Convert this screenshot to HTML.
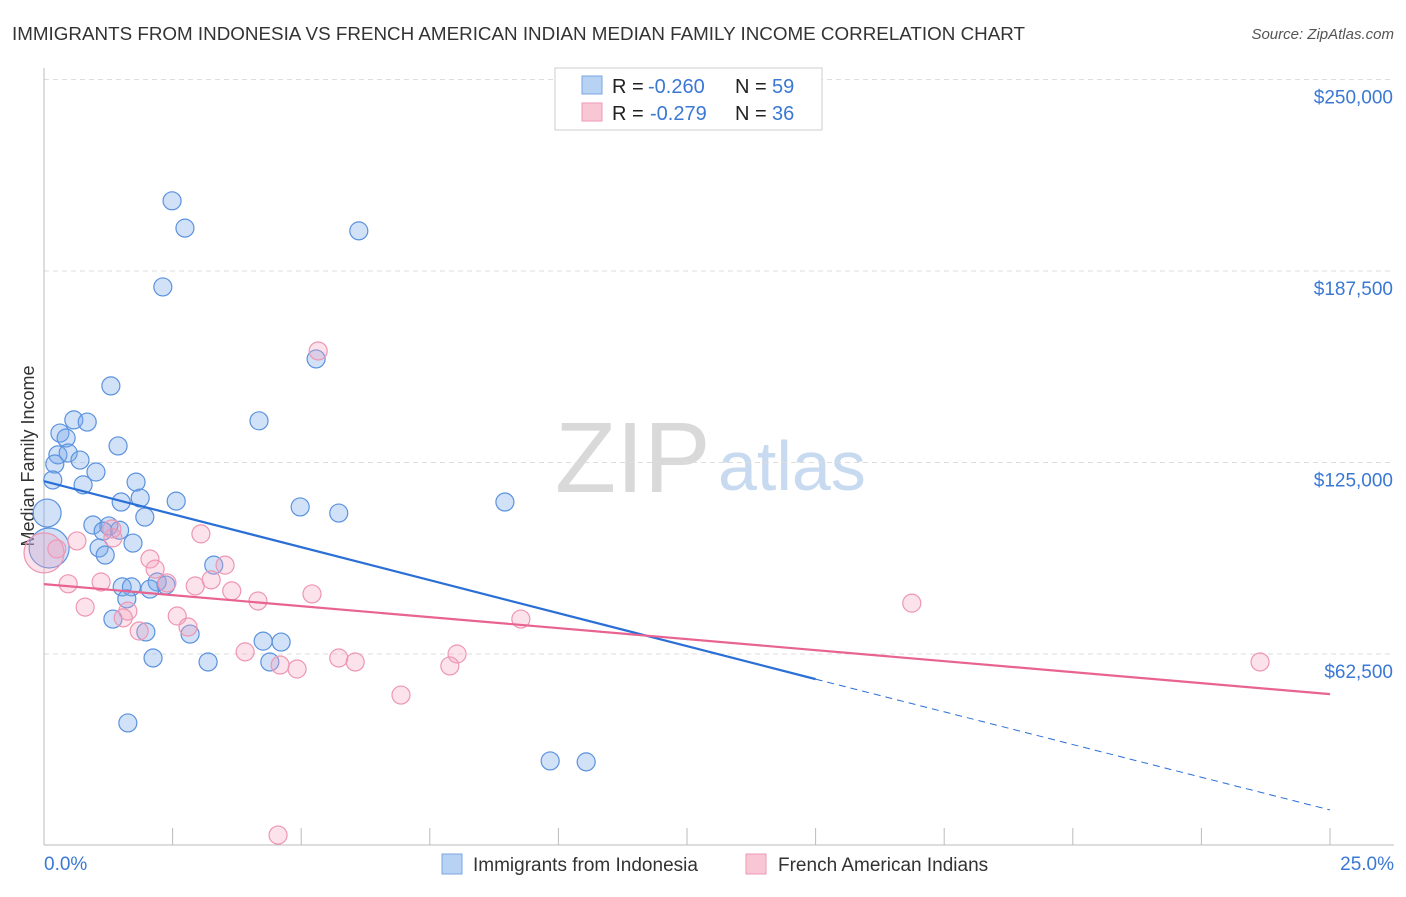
<!DOCTYPE html>
<html><head><meta charset="utf-8"><style>
body{margin:0;background:#fff;font-family:"Liberation Sans",sans-serif;}
svg text{font-family:"Liberation Sans",sans-serif;}
</style></head><body>
<svg id="chart" width="1406" height="892" xmlns="http://www.w3.org/2000/svg">
<text x="12" y="40" font-size="18" fill="#333" textLength="1013" lengthAdjust="spacingAndGlyphs">IMMIGRANTS FROM INDONESIA VS FRENCH AMERICAN INDIAN MEDIAN FAMILY INCOME CORRELATION CHART</text>
<text x="1394" y="39" font-size="15" fill="#555" text-anchor="end" font-style="italic">Source: ZipAtlas.com</text>
<text x="0" y="0" font-size="18" fill="#333" text-anchor="middle" transform="translate(34,456) rotate(-90)">Median Family Income</text>
<text x="555" y="492" font-size="100" fill="#d9d9d9" font-family="Liberation Serif">ZIP</text>
<text x="718" y="490" font-size="70" fill="#c8daf0">atlas</text>
<g id="grid"></g><g id="axes"></g><g id="pts"></g><g id="trend"></g>
<g>
<rect x="555" y="68" width="267" height="62" fill="#fff" stroke="#ccc"/>
<rect x="582" y="76" width="20" height="18" fill="#b8d2f4" stroke="#7aa6e0"/>
<text x="612" y="93" font-size="20" fill="#222">R =</text>
<text x="648" y="93" font-size="20" fill="#3a78d4">-0.260</text>
<text x="735" y="93" font-size="20" fill="#222">N =</text>
<text x="772" y="93" font-size="20" fill="#3a78d4">59</text>
<rect x="582" y="103" width="20" height="18" fill="#f9c6d6" stroke="#ee9ab4"/>
<text x="612" y="120" font-size="20" fill="#222">R =</text>
<text x="650" y="120" font-size="20" fill="#3a78d4">-0.279</text>
<text x="735" y="120" font-size="20" fill="#222">N =</text>
<text x="772" y="120" font-size="20" fill="#3a78d4">36</text>
</g>
<g>
<rect x="442" y="854" width="20" height="20" fill="#b8d2f4" stroke="#7aa6e0"/>
<text x="473" y="871" font-size="19" fill="#333">Immigrants from Indonesia</text>
<rect x="746" y="854" width="20" height="20" fill="#f9c6d6" stroke="#ee9ab4"/>
<text x="778" y="871" font-size="19" fill="#333">French American Indians</text>
</g>
</svg>
<script>
const yTicks=[62500,125000,187500,250000];
const yTickLabels=["$62,500","$125,000","$187,500","$250,000"];
const xTickLabels=["0.0%","25.0%"];
const blueX=[2.49,2.74,6.12,2.31,5.29,1.30,4.18,0.58,0.84,0.31,0.43,1.44,0.27,0.47,0.21,0.70,1.01,0.17,0.76,1.79,1.87,1.50,2.57,4.98,5.73,8.96,0.06,1.96,0.10,0.95,1.26,1.15,1.47,1.73,1.07,1.19,3.30,2.20,2.37,1.52,2.06,1.70,1.61,1.34,1.98,2.84,4.26,4.61,2.12,3.19,4.39,1.63,9.84,10.54];
const blueY=[210.4,201.5,200.6,182.3,158.8,150.0,138.6,138.9,138.2,134.6,133.0,130.4,127.5,128.1,124.5,125.8,121.9,119.3,117.7,118.6,113.4,112.1,112.4,110.5,108.5,112.1,108.5,107.2,97.1,104.6,104.3,102.6,102.9,98.7,97.1,94.8,91.5,86.0,85.0,84.4,83.7,84.4,80.5,73.9,69.7,69.0,66.7,66.4,61.2,59.9,59.9,40.0,27.6,27.3];
const blueR=[9,9,9,9,9,9,9,9,9,9,9,9,9,9,9,9,9,9,9,9,9,9,9,9,9,9,14,9,20,9,9,9,9,9,9,9,9,9,9,9,9,9,9,9,9,9,9,9,9,9,9,9,9,9];
const pinkX=[5.33,3.05,1.32,0.64,1.34,0.25,0.0,2.06,2.16,3.52,0.47,1.11,2.39,2.94,3.25,3.65,5.21,4.16,0.80,1.63,2.59,1.54,2.80,1.85,9.27,16.87,3.91,5.73,6.05,8.03,7.89,4.59,4.92,6.94,23.64,4.55];
const pinkY=[161.4,101.7,103.3,99.4,100.4,96.8,95.5,93.5,90.2,91.5,85.4,86.0,85.7,84.7,86.7,83.1,82.1,79.8,77.8,76.5,74.9,74.3,71.3,70.0,73.9,79.1,63.2,61.2,59.9,62.5,58.6,58.9,57.6,49.1,59.9,3.4];
const pinkR=[9,9,9,9,9,9,20,9,9,9,9,9,9,9,9,9,9,9,9,9,9,9,9,9,9,9,9,9,9,9,9,9,9,9,9,9];
const blueTrend=[118.9,54.3,11.6]; // at 0%,15%,25%
const pinkTrend=[85.3,49.4]; // at 0%,25%
const X=p=>44+p*51.44;
const Y=k=>654-(k-62.5)*191.5/62.5;
const NS="http://www.w3.org/2000/svg";
function mk(tag,attrs,parent){const e=document.createElementNS(NS,tag);for(const k in attrs)e.setAttribute(k,attrs[k]);document.getElementById(parent).appendChild(e);return e;}
yTicks.forEach((t,i)=>{const y=Y(t/1000);
const l=mk('line',{x1:44,x2:1394,y1:y,y2:y,stroke:'#ddd','stroke-dasharray':'5,4'},'grid');


const tx=mk('text',{x:1393,y:y+24,'font-size':19,fill:'#3a78d4','text-anchor':'end'},'grid');tx.textContent=yTickLabels[i];

});
const ax=mk('line',{x1:44,x2:44,y1:68,y2:845,stroke:'#bbb'},'axes');


const bx=mk('line',{x1:44,x2:1394,y1:845,y2:845,stroke:'#bbb'},'axes');


for(let i=0;i<=10;i++){const x=X(i*2.5);const t=mk('line',{x1:x,x2:x,y1:828,y2:845,stroke:'#bbb'},'axes');

}
[[0,'start',44],[1,'end',1394]].forEach(([i,a,x])=>{const t=mk('text',{x:x,y:870,'font-size':19,fill:'#3a78d4','text-anchor':a},'axes');t.textContent=xTickLabels[i];

});
blueX.forEach((p,i)=>{const c=mk('circle',{cx:X(p),cy:Y(blueY[i]),r:blueR[i],fill:'rgba(120,170,235,0.35)',stroke:'#5b92de','stroke-width':1.2},'pts');

});
pinkX.forEach((p,i)=>{const c=mk('circle',{cx:X(p),cy:Y(pinkY[i]),r:pinkR[i],fill:'rgba(245,160,190,0.3)',stroke:'#ee96b2','stroke-width':1.2},'pts');

});
const b1=mk('line',{x1:X(0),y1:Y(blueTrend[0]),x2:X(15),y2:Y(blueTrend[1]),stroke:'#2a6fd6','stroke-width':2.2},'trend');


const b2=mk('line',{x1:X(15),y1:Y(blueTrend[1]),x2:X(25),y2:Y(blueTrend[2]),stroke:'#2a6fd6','stroke-width':1,'stroke-dasharray':'7,5'},'trend');


const p1=mk('line',{x1:X(0),y1:Y(pinkTrend[0]),x2:X(25),y2:Y(pinkTrend[1]),stroke:'#e8638f','stroke-width':2.2},'trend');


</script>
</body></html>
